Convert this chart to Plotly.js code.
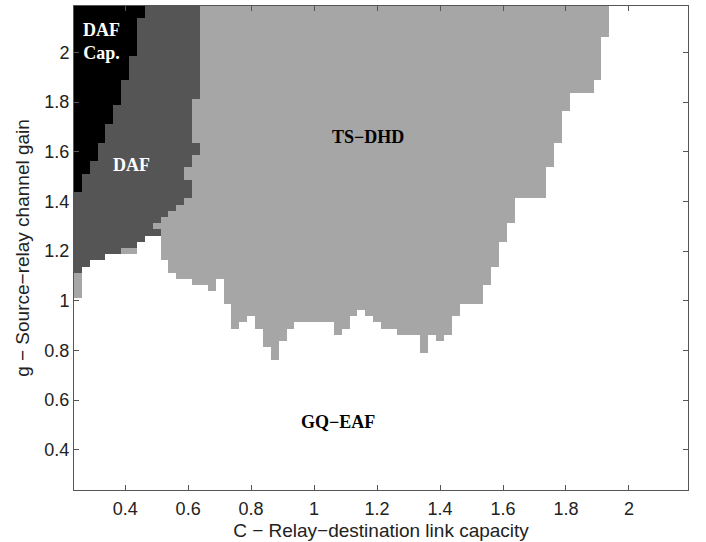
<!DOCTYPE html>
<html><head><meta charset="utf-8">
<script src="https://cdn.plot.ly/plotly-3.0.1.min.js"></script>
<style>html,body{margin:0;padding:0;background:#fff}#chart{width:706px;height:542px}</style>
</head><body><div id="chart"></div>
<script>
// Decision map grid (cell centres start / spacing)
const xStart = 0.25, xStep = 0.025, nCols = 78;
const yStart = 0.25, yStep = 0.025, nRows = 78;
const yTop = 2.1875;

// Regions: 0 GQ-EAF (white), 1 TS-DHD, 2 DAF, 3 DAF capacity
const regionNames = ['GQ\u2212EAF', 'TS\u2212DHD', 'DAF', 'DAF<br>Cap.'];
const regionColors = ['#ffffff', '#a6a6a6', '#555555', '#000000'];

// Per column (x = 0.25, 0.275, ...): y below which GQ-EAF is best
const tsFloor = [
  1.0125, 1.1375, 1.1625, 1.1625, 1.1875, 1.1875, 1.1875, 1.1875, 1.2375, 1.2625,
  1.2625, 1.1625, 1.1125, 1.0875, 1.0875, 1.0625, 1.0625, 1.0375, 1.0875, 0.9875,
  0.8875, 0.9125, 0.9375, 0.8875, 0.8125, 0.7625, 0.8375, 0.8875, 0.9125, 0.9125,
  0.9125, 0.9125, 0.9125, 0.8625, 0.8875, 0.9375, 0.9625, 0.9375, 0.9125, 0.8875,
  0.8875, 0.8625, 0.8625, 0.8625, 0.7875, 0.8625, 0.8375, 0.8625, 0.9375, 0.9875,
  0.9875, 0.9875, 1.0625, 1.1375, 1.2375, 1.3125, 1.4125, 1.4125, 1.4125, 1.4125,
  1.5375, 1.6375, 1.7625, 1.8375, 1.8375, 1.8375, 1.8875, 2.0625, 2.1875, 2.1875,
  2.1875, 2.1875, 2.1875, 2.1875, 2.1875, 2.1875, 2.1875, 2.1875
];
// Per column (first 16 columns): y above which DAF is best
const dafFloor = [
  1.1125, 1.1375, 1.1625, 1.1625, 1.1875, 1.1875, 1.2125, 1.2125, 1.2375, 1.2625,
  1.3125, 1.3375, 1.3625, 1.3875, 1.5375, 1.8125
];
// Per column (first 9 columns): y above which DAF capacity is reached
const capFloor = [1.4375, 1.5125, 1.5625, 1.6375, 1.7125, 1.7875, 1.8875, 1.9875, 2.1375];
// Extra DAF pockets inside TS-DHD: [x, yLow, yHigh]
const dafPockets = [[0.5, 1.2625, 1.2875], [0.6, 1.4125, 1.4875], [0.625, 1.5875, 1.6375]];

const tickVals = [0.4, 0.6, 0.8, 1, 1.2, 1.4, 1.6, 1.8, 2];
const tickText = ['0.4', '0.6', '0.8', '1', '1.2', '1.4', '1.6', '1.8', '2'];

const z = [];
for (let j = 0; j < nRows; j++) {
  const yc = yStart + j * yStep;
  const row = [];
  for (let i = 0; i < nCols; i++) {
    const xc = xStart + i * xStep;
    const ts = tsFloor[i];
    const df = i < dafFloor.length ? dafFloor[i] : yTop;
    const cf = i < capFloor.length ? capFloor[i] : yTop;
    let c;
    if (yc < ts) c = 0;
    else if (yc < df) c = 1;
    else if (yc < cf) c = 2;
    else c = 3;
    dafPockets.forEach(p => {
      if (Math.abs(p[0] - xc) < xStep / 2 && yc > p[1] && yc < p[2]) c = 2;
    });
    row.push(c);
  }
  z.push(row);
}

const trace = {
  type: 'heatmap', z: z, x0: xStart, dx: xStep, y0: yStart, dy: yStep,
  zmin: 0, zmax: 3, showscale: false, hoverinfo: 'skip', zsmooth: false,
  colorscale: [[0, regionColors[0]], [1/3, regionColors[1]], [2/3, regionColors[2]], [1, regionColors[3]]]
};

const serif = 'Liberation Serif, Times New Roman, serif';
const sans = 'Liberation Sans, Arial, sans-serif';
const labelPos = [[1.076, 0.512], [1.172, 1.66], [0.42, 1.548], [0.326, 2.043]];
const labelColor = ['#000', '#000', '#fff', '#fff'];
const annotations = regionNames.map((t, k) => ({
  x: labelPos[k][0], y: labelPos[k][1], xref: 'x', yref: 'y', text: '<b>' + t + '</b>',
  showarrow: false, font: {family: serif, size: 18, color: labelColor[k]}
}));

const axisCommon = {
  showgrid: false, zeroline: false, showline: true, linecolor: '#555', linewidth: 1,
  mirror: 'ticks', ticks: 'inside', ticklen: 5, tickcolor: '#555',
  tickvals: tickVals, ticktext: tickText,
  tickfont: {family: sans, size: 18, color: '#222'}
};

const layout = {
  width: 706, height: 542,
  margin: {l: 74, r: 18, t: 6, b: 52},
  paper_bgcolor: '#fff', plot_bgcolor: '#fff',
  xaxis: Object.assign({}, axisCommon, {
    range: [0.2375, 2.1875], ticklabelstandoff: 2,
    title: {text: 'C \u2212 Relay\u2212destination link capacity', font: {family: sans, size: 19, color: '#222'}, standoff: 6}
  }),
  yaxis: Object.assign({}, axisCommon, {
    range: [0.2375, 2.1875],
    title: {text: 'g \u2212 Source\u2212relay channel gain', font: {family: sans, size: 19, color: '#222'}, standoff: 9}
  }),
  annotations: annotations,
  showlegend: false
};

Plotly.newPlot('chart', [trace], layout, {displayModeBar: false, staticPlot: true});
</script>
</body></html>
